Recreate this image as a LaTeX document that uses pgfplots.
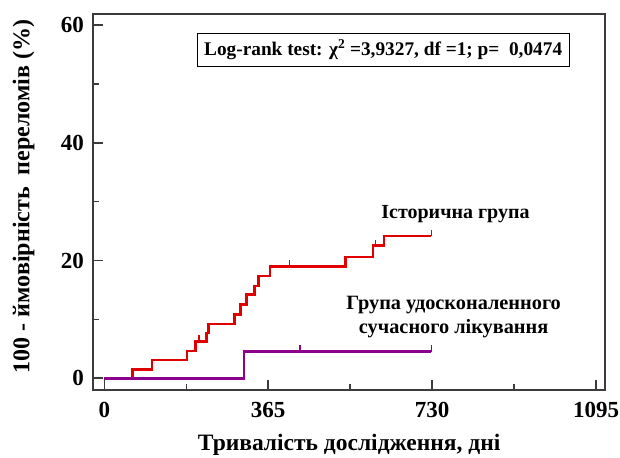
\documentclass[border=0pt]{standalone}
\usepackage{pgfplots}
\pgfplotsset{compat=1.18}
\usepackage{fontspec}
\setmainfont{Liberation Serif}
\definecolor{kred}{RGB}{225,0,0}
\definecolor{kpurple}{RGB}{140,0,140}
\definecolor{axgray}{RGB}{60,60,60}
\begin{document}
\begin{tikzpicture}
\begin{axis}[
  scale only axis, width=511.7pt, height=376pt,
  xmin=-24.5, xmax=1115, ymin=-2, ymax=61.9,
  xtick={0,365,730,1095}, xticklabels={0,365,730,1095},
  ytick={0,20,40,60}, yticklabels={0,20,40,60},
  minor xtick={182.5,547.5,912.5}, minor ytick={10,30,50},
  tick align=inside, xtick pos=bottom, ytick pos=left,
  major tick length=10pt, minor tick length=6pt,
  axis line style={line width=2.2pt, color=axgray},
  every tick/.style={line width=1.5pt, color=axgray},
  ticklabel style={font=\fontsize{23}{25}\selectfont\bfseries, text=black},
  xticklabel style={yshift=-9pt}, yticklabel style={xshift=-6pt},
  xlabel={Тривалість дослідження, дні},
  ylabel={100 - ймовірність\ \ переломів (\%)},
  xlabel style={font=\fontsize{23.5}{25}\selectfont\bfseries, at={(axis description cs:0.500,-0.145)}, anchor=center},
  ylabel style={font=\fontsize{24}{26}\selectfont\bfseries, at={(axis description cs:-0.136,0.515)}, anchor=center, rotate=0},
  clip=false,
]
% Historical group
\addplot[const plot, color=kred, line width=2.6pt] coordinates {
  (0,0) (63,1.5) (106,3.1) (184,4.6) (203,6.2) (227,7.7) (232,9.2)
  (290,10.8) (303,12.5) (316,14.2) (335,15.7) (344,17.4) (369,19.0)
  (537,20.6) (598,22.6) (623,24.2) (728,24.2)
};
% Improved therapy group
\addplot[const plot, color=kpurple, line width=2.6pt] coordinates {
  (0,0) (311,4.5) (728,4.5)
};
% censoring marks
\addplot[color=kred, line width=1.4pt] coordinates {(211,6.2) (211,7.4)};
\addplot[color=kred, line width=1.4pt] coordinates {(412,19.0) (412,20.1)};
\addplot[color=kred, line width=1.4pt] coordinates {(604,22.6) (604,23.5)};
\addplot[color=kred, line width=1.4pt] coordinates {(728,24.2) (728,25.2)};
\addplot[color=kpurple, line width=1.4pt] coordinates {(436,4.5) (436,5.6)};
\addplot[color=kpurple, line width=1.4pt] coordinates {(728,4.5) (728,5.6)};
\node[draw=black, line width=1.2pt, fill=white, minimum width=372pt, minimum height=33pt,
  font=\fontsize{19.3}{21}\selectfont\bfseries] at (axis cs:621,55.8)
  {Log-rank test: χ\textsuperscript{2} =3,9327, df =1; p=\ \ 0,0474};
\node[font=\fontsize{20}{22}\selectfont\bfseries] at (axis cs:782,27.9) {Історична група};
\node[font=\fontsize{20.3}{23.3}\selectfont\bfseries, align=center] at (axis cs:778,10.4)
  {Група удосконаленного\\сучасного лікування};
\end{axis}
\pgfresetboundingbox
\path[use as bounding box] (current axis.south west) ++(-93.3pt,-67pt) rectangle ++(620pt,457pt);
\end{tikzpicture}
\end{document}
